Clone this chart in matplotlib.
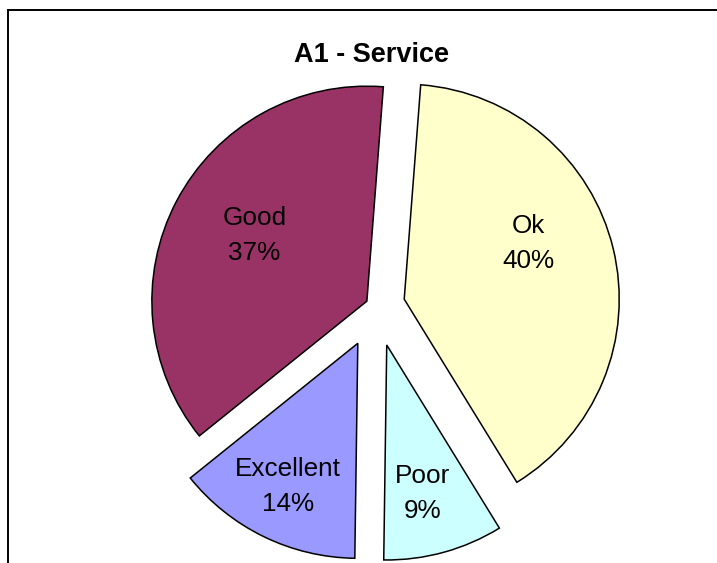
import numpy as np
import matplotlib
matplotlib.use('Agg')
import matplotlib.pyplot as plt
from matplotlib.lines import Line2D

plt.rcParams['font.family'] = ['Liberation Sans', 'DejaVu Sans']

# dados
categorias = ['Ok', 'Poor', 'Excellent', 'Good']
valores = [40, 9, 14, 37]
cores = ['#FFFFCC', '#CCFFFF', '#9999FF', '#993366']

# estilo das fatias (afastamento de cada uma)
explode = [0.135, 0.188, 0.193, 0.048]
# posição do rótulo: distância a partir do vértice e desvio angular (graus)
rot_dist = [0.635, 0.71, 0.74, 0.605]
rot_desvio = [10.5, -2.0, 0.0, -2.5]

W, H = 717, 563
cx, cy, R = 376, 306, 215

fig = plt.figure(figsize=(W / 100, H / 100), dpi=100)
fig.patch.set_facecolor('white')
ax = fig.add_axes([0, 0, 1, 1])

wedges, _ = ax.pie(valores, colors=cores, explode=explode, startangle=85.6,
                   counterclock=False, radius=1,
                   wedgeprops=dict(edgecolor='black', linewidth=1.1))

total = sum(valores)
for w, cat, v, d, dv in zip(wedges, categorias, valores, rot_dist, rot_desvio):
    meio = np.deg2rad((w.theta1 + w.theta2) / 2 + dv)
    x0, y0 = w.center
    ax.text(x0 + d * np.cos(meio), y0 + d * np.sin(meio),
            f"{cat}\n{round(100 * v / total)}%",
            ha='center', va='center', fontsize=18.8, linespacing=1.55,
            color='black')

ax.set_aspect('auto')
ax.set_xlim(-cx / R, (W - cx) / R)
ax.set_ylim(-(H - cy) / R, cy / R)
ax.axis('off')

# título
fig.text(371 / W, 1 - 55 / H, 'A1 - Service', ha='center', va='center',
         fontsize=19.5, fontweight='bold')

# moldura da área do gráfico (só esquerda e topo aparecem)
fx, fy = 8 / W, 1 - 9.5 / H
fig.add_artist(Line2D([fx, fx], [0, fy], color='black', lw=1.4,
                      transform=fig.transFigure))
fig.add_artist(Line2D([fx, 1], [fy, fy], color='black', lw=1.4,
                      transform=fig.transFigure))

plt.savefig('out.png', dpi=100, facecolor='white')
plt.close()
